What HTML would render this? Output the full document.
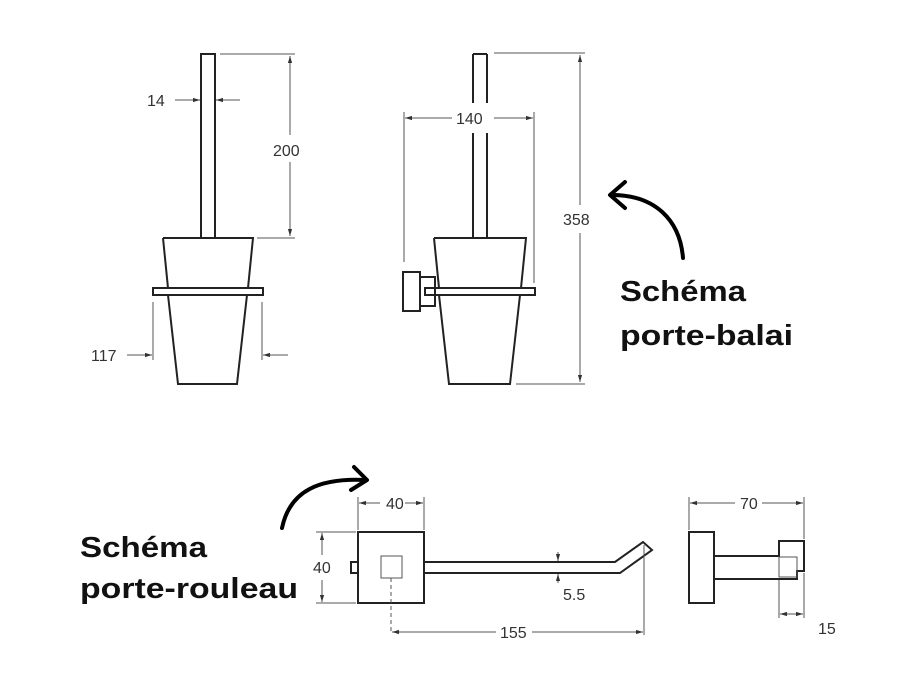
<!DOCTYPE html>
<html><head><meta charset="utf-8"><style>
html,body{margin:0;padding:0;background:#fff;}
svg{display:block;}
.d{font-family:"Liberation Sans",Arial,sans-serif;font-size:16px;fill:#333;}
.t{font-family:"Liberation Sans",Arial,sans-serif;font-size:29px;font-weight:bold;fill:#111;}
</style></head><body>
<svg width="921" height="690" viewBox="0 0 921 690" xmlns="http://www.w3.org/2000/svg">
<defs>
<marker id="a" viewBox="0 0 10 10" refX="10" refY="5" markerWidth="7" markerHeight="7" orient="auto-start-reverse"><path d="M0,2 L10,5 L0,8 z" fill="#333"/></marker>
</defs>
<g fill="none" stroke="#222" stroke-width="2">
<!-- left brush -->
<rect x="201" y="54" width="14" height="184"/>
<path d="M163,238 L253,238 L248,288 M163,238 L168,288"/>
<rect x="153" y="288" width="110" height="7" fill="#fff"/>
<path d="M168,295 L178,384 L237,384 L247,295"/>
<!-- middle brush -->
<path d="M473,54 L487,54 M473,54 L473,103 M487,54 L487,103 M473,133 L473,238 M487,133 L487,238"/>
<path d="M434,238 L526,238 L521,288 M434,238 L439,288"/>
<rect x="425" y="288" width="110" height="7" fill="#fff"/>
<path d="M439,295 L449,384 L510,384 L520,295"/>
<rect x="403" y="272" width="17" height="39"/>
<rect x="420" y="277" width="15" height="29"/>
<!-- roll holder front -->
<rect x="358" y="532" width="66" height="71"/>
<path d="M424,562 L615,562 L643,542 L652,550 L620,573 L424,573"/>
<path d="M358,562 L351,562 L351,573 L358,573"/>
<!-- side -->
<rect x="689" y="532" width="25" height="71"/>
<path d="M714,556 L779,556 L779,541 L804,541 L804,571 L797,571 L797,579 L714,579"/>
</g>
<g fill="none" stroke="#555" stroke-width="1">
<rect x="381" y="556" width="21" height="22"/>
<line x1="391" y1="578" x2="391" y2="632" stroke-dasharray="4,3"/>
<rect x="779" y="557" width="18" height="20"/>
<!-- dims left -->
<line x1="220" y1="54" x2="295" y2="54"/><line x1="257" y1="238" x2="295" y2="238"/>
<line x1="290" y1="56" x2="290" y2="135" marker-start="url(#a)"/><line x1="290" y1="162" x2="290" y2="236" marker-end="url(#a)"/>
<line x1="175" y1="100" x2="200" y2="100" marker-end="url(#a)"/><line x1="240" y1="100" x2="216" y2="100" marker-end="url(#a)"/>
<line x1="153" y1="302" x2="153" y2="360"/><line x1="262" y1="302" x2="262" y2="360"/>
<line x1="127" y1="355" x2="152" y2="355" marker-end="url(#a)"/><line x1="288" y1="355" x2="263" y2="355" marker-end="url(#a)"/>
<!-- dims mid -->
<line x1="404" y1="112" x2="404" y2="262"/><line x1="534" y1="112" x2="534" y2="283"/>
<line x1="405" y1="118" x2="452" y2="118" marker-start="url(#a)"/><line x1="494" y1="118" x2="533" y2="118" marker-end="url(#a)"/>
<line x1="494" y1="53" x2="585" y2="53"/><line x1="516" y1="384" x2="585" y2="384"/>
<line x1="580" y1="55" x2="580" y2="205" marker-start="url(#a)"/><line x1="580" y1="233" x2="580" y2="382" marker-end="url(#a)"/>
<!-- dims bottom -->
<line x1="358" y1="497" x2="358" y2="530"/><line x1="424" y1="497" x2="424" y2="530"/>
<line x1="359" y1="503" x2="380" y2="503" marker-start="url(#a)"/><line x1="405" y1="503" x2="423" y2="503" marker-end="url(#a)"/>
<line x1="316" y1="532" x2="356" y2="532"/><line x1="316" y1="603" x2="356" y2="603"/>
<line x1="322" y1="533" x2="322" y2="555" marker-start="url(#a)"/><line x1="322" y1="580" x2="322" y2="602" marker-end="url(#a)"/>
<line x1="558" y1="552" x2="558" y2="561" marker-end="url(#a)"/><line x1="558" y1="583" x2="558" y2="574" marker-end="url(#a)"/>
<line x1="644" y1="545" x2="644" y2="635"/>
<line x1="392" y1="632" x2="496" y2="632" marker-start="url(#a)"/><line x1="532" y1="632" x2="643" y2="632" marker-end="url(#a)"/>
<line x1="689" y1="497" x2="689" y2="530"/><line x1="804" y1="497" x2="804" y2="539"/>
<line x1="690" y1="503" x2="735" y2="503" marker-start="url(#a)"/><line x1="762" y1="503" x2="803" y2="503" marker-end="url(#a)"/>
<line x1="779" y1="580" x2="779" y2="618"/><line x1="804" y1="573" x2="804" y2="618"/>
<line x1="780" y1="614" x2="803" y2="614" marker-start="url(#a)" marker-end="url(#a)"/>
</g>
<g class="d">
<text x="147" y="106">14</text>
<text x="273" y="156">200</text>
<text x="91" y="361">117</text>
<text x="456" y="124">140</text>
<text x="563" y="225">358</text>
<text x="386" y="509">40</text>
<text x="313" y="573">40</text>
<text x="563" y="600">5.5</text>
<text x="500" y="638">155</text>
<text x="740" y="509">70</text>
<text x="818" y="634">15</text>
</g>
<g fill="none" stroke="#000" stroke-width="4" stroke-linecap="round" stroke-linejoin="round">
<path d="M683,258 C680,220 655,195 612,195"/>
<path d="M625,182 L610,195 L625,208"/>
<path d="M282,528 C290,490 320,478 365,480"/>
<path d="M354,467 L367,480 L351,490"/>
</g>
<text class="t" x="620" y="301" textLength="126" lengthAdjust="spacingAndGlyphs">Schéma</text>
<text class="t" x="620" y="345" textLength="173" lengthAdjust="spacingAndGlyphs">porte-balai</text>
<text class="t" x="80" y="557" textLength="127" lengthAdjust="spacingAndGlyphs">Schéma</text>
<text class="t" x="80" y="598" textLength="218" lengthAdjust="spacingAndGlyphs">porte-rouleau</text>
</svg>
</body></html>
